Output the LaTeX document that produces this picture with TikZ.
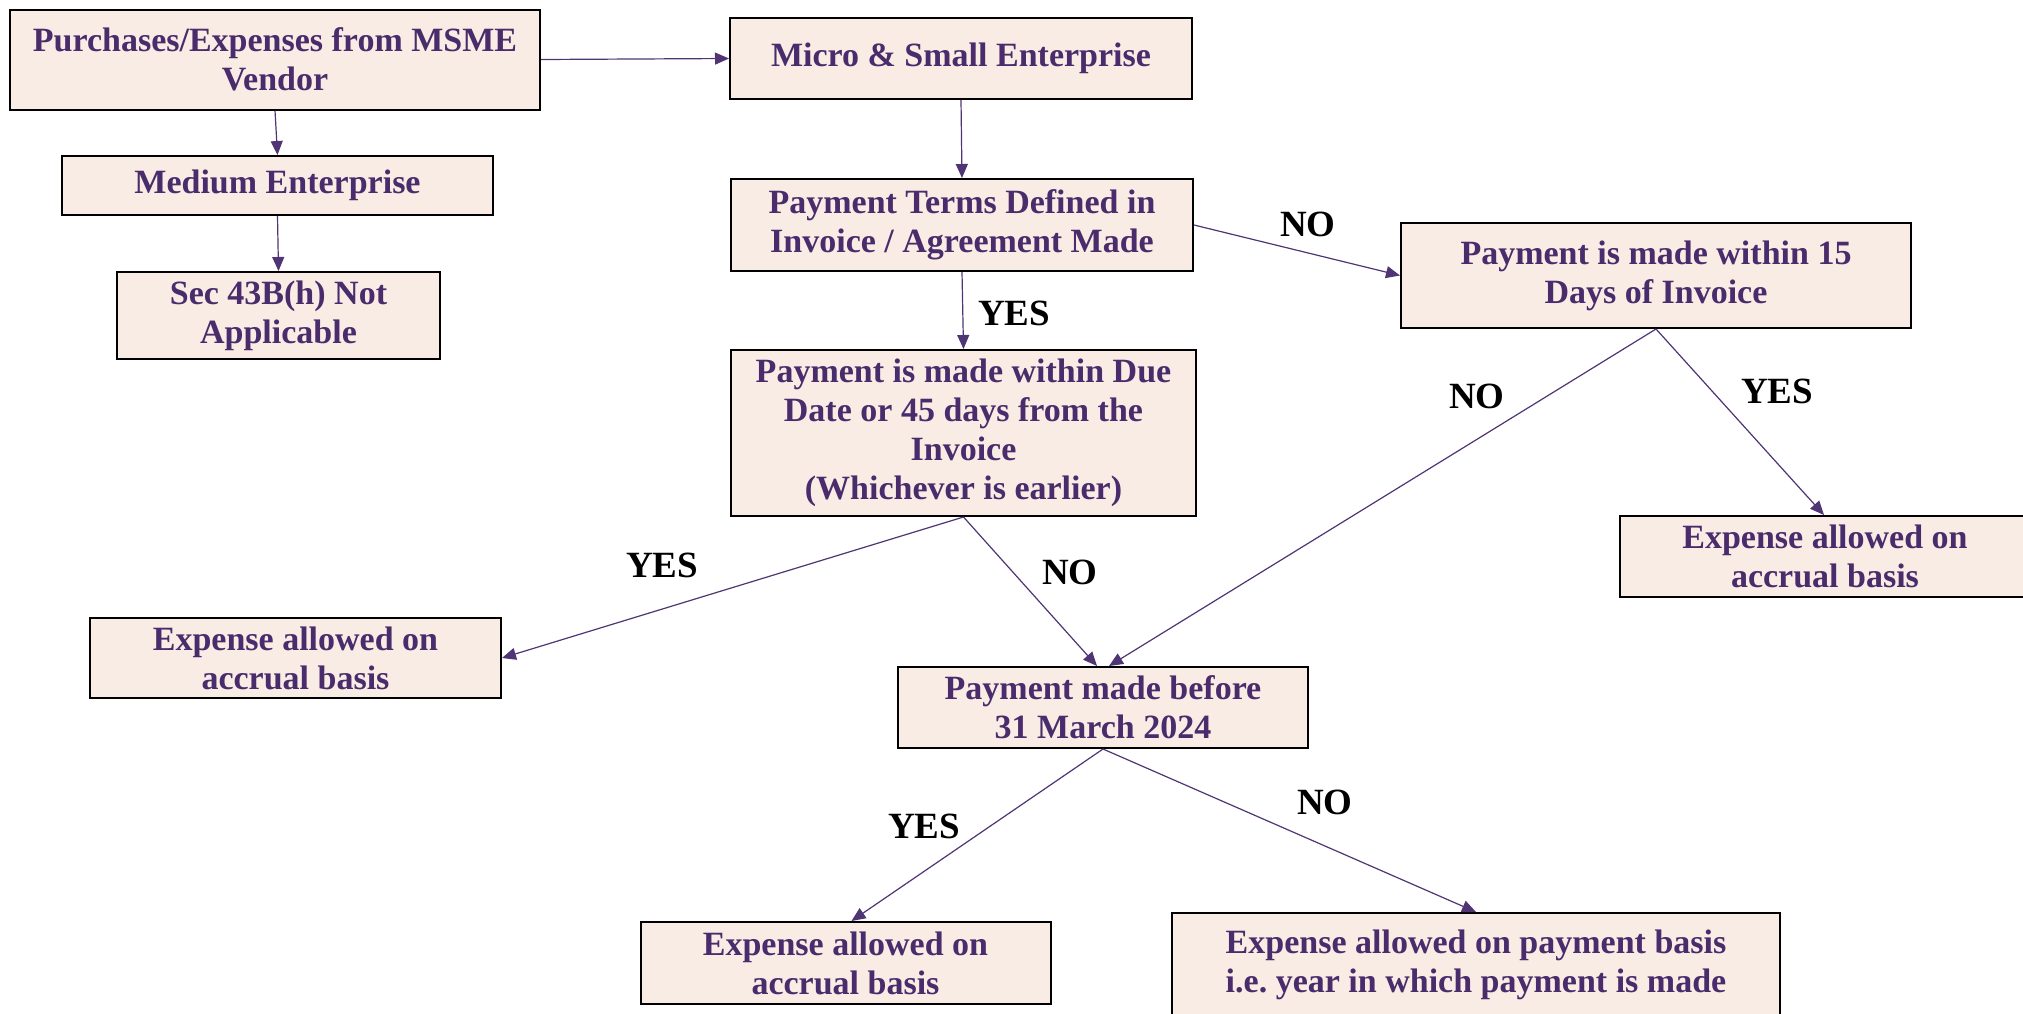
\documentclass[tikz,border=0pt]{standalone}
\usepackage{fontspec}
\setmainfont{Liberation Serif}
\usetikzlibrary{arrows.meta,calc}
\definecolor{txt}{HTML}{4A2C6C}
\definecolor{boxfill}{HTML}{F8ECE4}
\definecolor{arrc}{HTML}{4F3573}
\begin{document}
\begin{tikzpicture}[x=0.5pt,y=-0.5pt,
  box/.style={draw=black,line width=1pt,fill=boxfill,text=txt,font=\bfseries\fontsize{17}{19.5}\selectfont,align=center,inner sep=0pt},
  lbl/.style={font=\bfseries\fontsize{18.5}{22}\selectfont,text=black,inner sep=0pt},
  conn/.style={draw=arrc,line width=0.6pt,-{Triangle[width=6pt,length=7pt]}}]
\useasboundingbox (0,0) rectangle (2023,1013);
\fill[white] (0,0) rectangle (2023,1013);
% boxes
\node[box,minimum width=265pt,minimum height=50pt] (b1) at (275,59.5) {Purchases/Expenses from MSME\\Vendor};
\node[box,minimum width=231pt,minimum height=40.5pt] (b2) at (961,58.5) {Micro \& Small Enterprise};
\node[box,minimum width=215.5pt,minimum height=29.5pt] (b3) at (277.5,185.5) {Medium Enterprise};
\node[box,minimum width=161.5pt,minimum height=43.5pt] (b4) at (278.5,315.5) {Sec 43B(h) Not\\Applicable};
\node[box,minimum width=231pt,minimum height=46pt] (b5) at (962,225) {Payment Terms Defined in\\Invoice / Agreement Made};
\node[box,minimum width=255pt,minimum height=52.5pt] (b6) at (1656,275.5) {Payment is made within 15\\Days of Invoice};
\node[box,minimum width=232.5pt,minimum height=83pt] (b7) at (963.5,433) {Payment is made within Due\\Date or 45 days from the\\Invoice\\(Whichever is earlier)};
\node[box,minimum width=205pt,minimum height=40.5pt] (b8) at (1825,556.5) {Expense allowed on\\accrual basis};
\node[box,minimum width=205.5pt,minimum height=40pt] (b9) at (295.5,658) {Expense allowed on\\accrual basis};
\node[box,minimum width=205pt,minimum height=40.5pt] (b10) at (1103,707.5) {Payment made before\\31 March 2024};
\node[box,minimum width=205pt,minimum height=41pt] (b11) at (845.5,963) {Expense allowed on\\accrual basis};
\node[box,minimum width=304pt,minimum height=52pt] (b12) at (1476,965) {Expense allowed on payment basis\\i.e.\ year in which payment is made};
% connectors
\draw[conn] (b1.east) -- (b2.west);
\draw[conn] (b1.south) -- (b3.north);
\draw[conn] (b3.south) -- (b4.north);
\draw[conn] (b2.south) -- (b5.north);
\draw[conn] (b5.south) -- (b7.north);
\draw[conn] (b5.east) -- (b6.west);
\draw[conn] (b6.south) -- ($(b8.north)+(-1,0)$);
\draw[conn] (b6.south) -- ($(b10.north)+(6,0)$);
\draw[conn] (b7.south) -- (b9.east);
\draw[conn] (b7.south) -- ($(b10.north)+(-6,0)$);
\draw[conn] (b10.south) -- ($(b11.north)+(6,0)$);
\draw[conn] (b10.south) -- (b12.north);
% labels
\node[lbl] (l1) at (1308,224) {NO};
\node[lbl] (l2) at (1014,313) {YES};
\node[lbl] (l3) at (1477,396) {NO};
\node[lbl] (l4) at (1777,391) {YES};
\node[lbl] (l5) at (662,565) {YES};
\node[lbl] (l6) at (1070,572) {NO};
\node[lbl] (l7) at (924,826) {YES};
\node[lbl] (l8) at (1325,802) {NO};
\end{tikzpicture}
\end{document}
